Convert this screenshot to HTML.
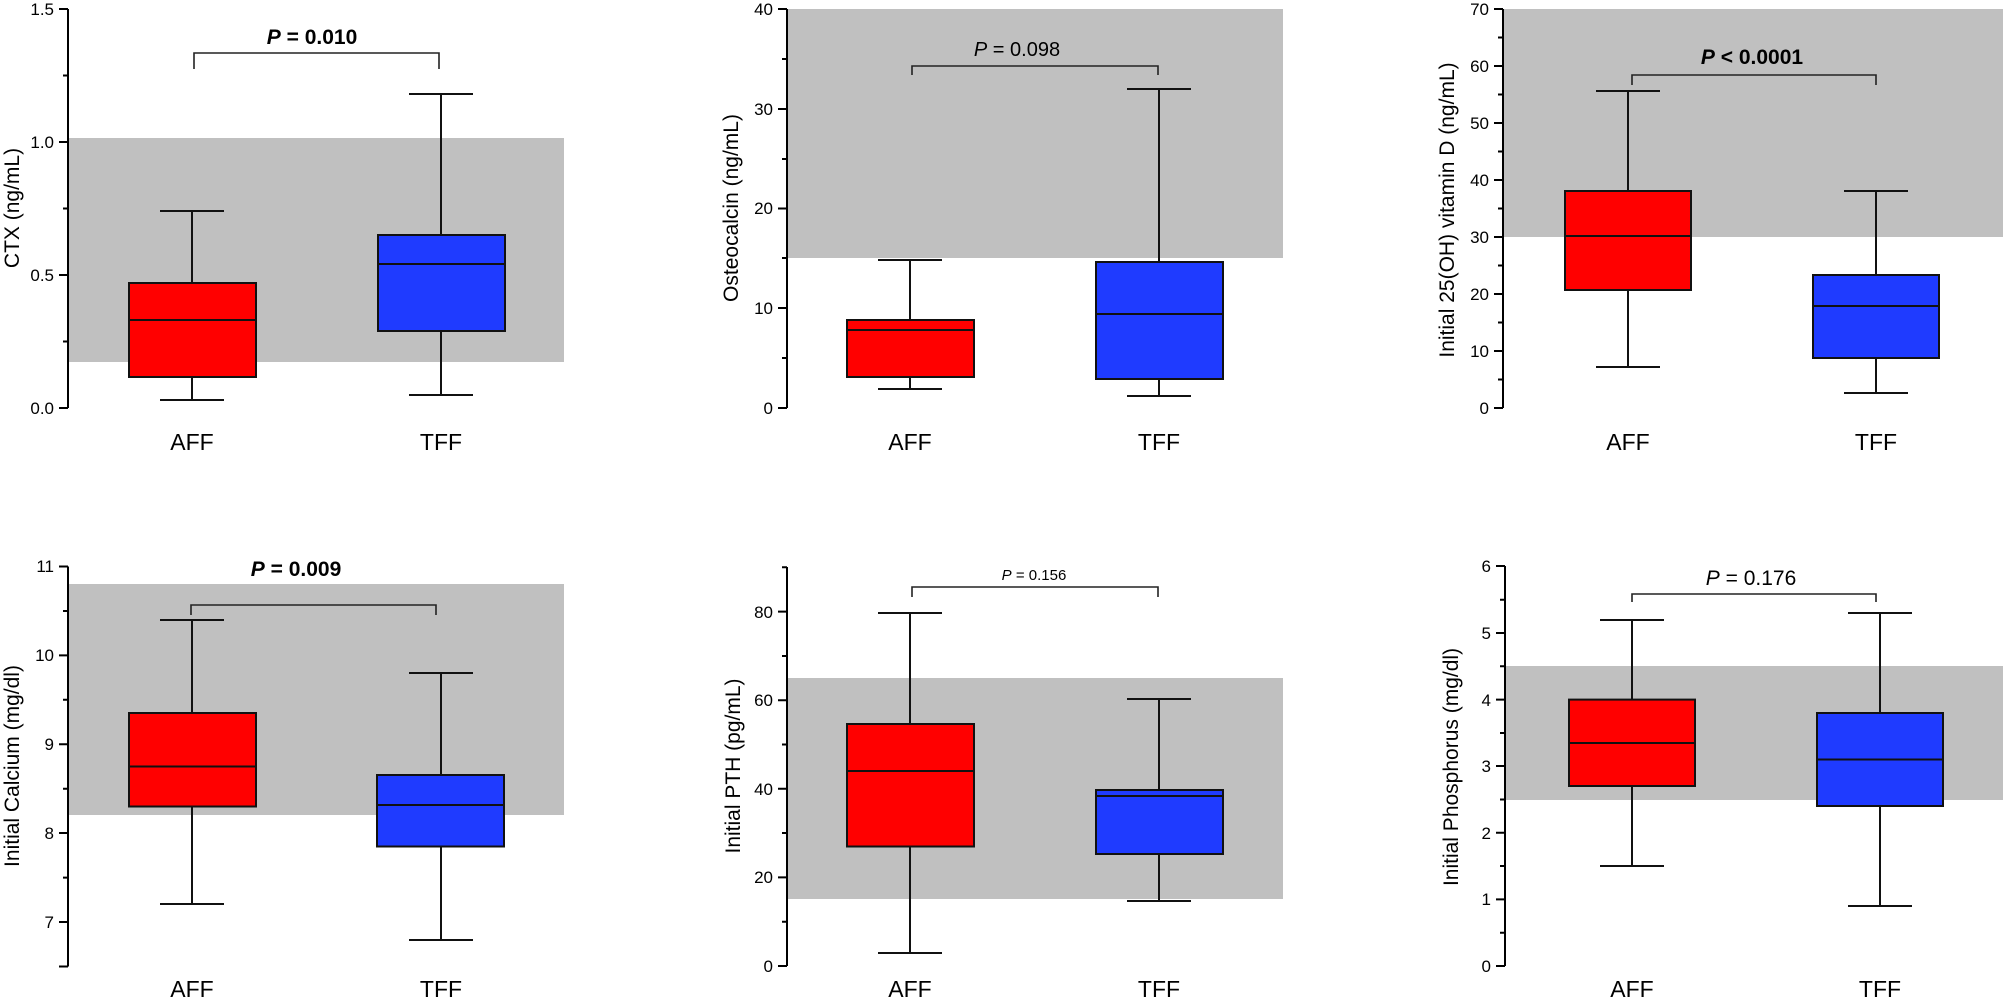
<!DOCTYPE html>
<html><head><meta charset="utf-8"><style>
html,body{margin:0;padding:0;background:#fff}
svg{display:block}
text{font-family:"Liberation Sans",Arial,sans-serif;fill:#000}
.t{font-size:17px;text-anchor:end}
.xl{font-size:23px;text-anchor:middle}
.yl{font-size:21px;text-anchor:middle}
.ax{stroke:#000;stroke-width:2;fill:none}
.w{stroke:#111;stroke-width:2;fill:none}
.br{stroke:#222;stroke-width:1.6;fill:none}
.bx{stroke:#111;stroke-width:2}
</style></head><body>
<svg width="2006" height="998" viewBox="0 0 2006 998" xmlns="http://www.w3.org/2000/svg">
<!-- Gray bands -->
<rect x="68" y="138" width="496" height="224" fill="#c0c0c0"/>
<rect x="787" y="9" width="496" height="249" fill="#c0c0c0"/>
<rect x="1503" y="9" width="500" height="228" fill="#c0c0c0"/>
<rect x="68" y="584" width="496" height="231" fill="#c0c0c0"/>
<rect x="787" y="678" width="496" height="221" fill="#c0c0c0"/>
<rect x="1505" y="666" width="498" height="134" fill="#c0c0c0"/>

<!-- Panel 1 CTX -->
<g>
<path class="ax" d="M68 9V408M59 408H68M59 275H68M59 142H68M59 9H68M63 341.5H68M63 208.5H68M63 75.5H68"/>
<text class="t" x="54" y="414">0.0</text><text class="t" x="54" y="281">0.5</text><text class="t" x="54" y="148">1.0</text><text class="t" x="54" y="15">1.5</text>
<text class="yl" transform="translate(19,208) rotate(-90)">CTX  (ng/mL)</text>
<path class="w" d="M192 400V211M160 400H224M160 211H224"/>
<rect class="bx" x="129" y="283" width="127" height="94" fill="#ff0000"/><path class="w" d="M129 320H256"/>
<path class="w" d="M441 395V94M409 395H473M409 94H473"/>
<rect class="bx" x="378" y="235" width="127" height="96" fill="#1f3bff"/><path class="w" d="M378 264H505"/>
<path class="br" d="M194 69V53H439V69"/>
<text x="312" y="44" style="font-size:21px;font-weight:bold;text-anchor:middle"><tspan font-style="italic">P</tspan> = 0.010</text>
<text class="xl" x="192" y="450">AFF</text><text class="xl" x="441" y="450">TFF</text>
</g>

<!-- Panel 2 Osteocalcin -->
<g>
<path class="ax" d="M787 9V408M778 408H787M778 308H787M778 208.5H787M778 109H787M778 9H787M782 358H787M782 258H787M782 159H787M782 59H787"/>
<text class="t" x="773" y="414">0</text><text class="t" x="773" y="314">10</text><text class="t" x="773" y="214">20</text><text class="t" x="773" y="115">30</text><text class="t" x="773" y="15">40</text>
<text class="yl" transform="translate(738,208) rotate(-90)">Osteocalcin  (ng/mL)</text>
<path class="w" d="M910 389V260M878 389H942M878 260H942"/>
<rect class="bx" x="847" y="320" width="127" height="57" fill="#ff0000"/><path class="w" d="M847 330H974"/>
<path class="w" d="M1159 396V89M1127 396H1191M1127 89H1191"/>
<rect class="bx" x="1096" y="262" width="127" height="117" fill="#1f3bff"/><path class="w" d="M1096 314H1223"/>
<path class="br" d="M912 75V66H1158V75"/>
<text x="1017" y="56" style="font-size:20px;text-anchor:middle"><tspan font-style="italic">P</tspan> = 0.098</text>
<text class="xl" x="910" y="450">AFF</text><text class="xl" x="1159" y="450">TFF</text>
</g>

<!-- Panel 3 Vitamin D -->
<g>
<path class="ax" d="M1503 9V408M1494 408H1503M1494 351H1503M1494 294H1503M1494 237H1503M1494 180H1503M1494 123H1503M1494 66H1503M1494 9H1503M1498 379.5H1503M1498 322.5H1503M1498 265.5H1503M1498 208.5H1503M1498 151.5H1503M1498 94.5H1503M1498 37.5H1503"/>
<text class="t" x="1489" y="414">0</text><text class="t" x="1489" y="357">10</text><text class="t" x="1489" y="300">20</text><text class="t" x="1489" y="243">30</text><text class="t" x="1489" y="186">40</text><text class="t" x="1489" y="129">50</text><text class="t" x="1489" y="72">60</text><text class="t" x="1489" y="15">70</text>
<text class="yl" transform="translate(1454,210) rotate(-90)">Initial 25(OH) vitamin D  (ng/mL)</text>
<path class="w" d="M1628 367V91M1596 367H1660M1596 91H1660"/>
<rect class="bx" x="1565" y="191" width="126" height="99" fill="#ff0000"/><path class="w" d="M1565 236H1691"/>
<path class="w" d="M1876 393V191M1844 393H1908M1844 191H1908"/>
<rect class="bx" x="1813" y="275" width="126" height="83" fill="#1f3bff"/><path class="w" d="M1813 306H1939"/>
<path class="br" d="M1632 85V75H1876V85"/>
<text x="1752" y="64" style="font-size:21px;font-weight:bold;text-anchor:middle"><tspan font-style="italic">P</tspan> &lt; 0.0001</text>
<text class="xl" x="1628" y="450">AFF</text><text class="xl" x="1876" y="450">TFF</text>
</g>

<!-- Panel 4 Calcium -->
<g>
<path class="ax" d="M68 566.5V966.5M59 966.5H68M59 922H68M59 833H68M59 744.2H68M59 655.4H68M59 566.5H68M63 877.6H68M63 788.7H68M63 699.8H68M63 611H68"/>
<text class="t" x="54" y="928">7</text><text class="t" x="54" y="839">8</text><text class="t" x="54" y="750">9</text><text class="t" x="54" y="661">10</text><text class="t" x="54" y="572">11</text>
<text class="yl" transform="translate(19,766) rotate(-90)">Initial Calcium (mg/dl)</text>
<path class="w" d="M192 904V620M160 904H224M160 620H224"/>
<rect class="bx" x="129" y="713" width="127" height="93.5" fill="#ff0000"/><path class="w" d="M129 766.5H256"/>
<path class="w" d="M441 940V673M409 940H473M409 673H473"/>
<rect class="bx" x="377" y="775" width="127" height="71.5" fill="#1f3bff"/><path class="w" d="M377 805H504"/>
<path class="br" d="M191 615V605H436V615"/>
<text x="296" y="576" style="font-size:21px;font-weight:bold;text-anchor:middle"><tspan font-style="italic">P</tspan> = 0.009</text>
<text class="xl" x="192" y="997">AFF</text><text class="xl" x="441" y="997">TFF</text>
</g>

<!-- Panel 5 PTH -->
<g>
<path class="ax" d="M787 567V966M778 966H787M778 877.4H787M778 788.8H787M778 700.2H787M778 611.6H787M782 921.7H787M782 833H787M782 744.5H787M782 656H787M782 567.3H787"/>
<text class="t" x="773" y="972">0</text><text class="t" x="773" y="883">20</text><text class="t" x="773" y="795">40</text><text class="t" x="773" y="706">60</text><text class="t" x="773" y="618">80</text>
<text class="yl" transform="translate(740,766) rotate(-90)">Initial PTH (pg/mL)</text>
<path class="w" d="M910 953V613M878 953H942M878 613H942"/>
<rect class="bx" x="847" y="724" width="127" height="122.5" fill="#ff0000"/><path class="w" d="M847 771H974"/>
<path class="w" d="M1159 901V699M1127 901H1191M1127 699H1191"/>
<rect class="bx" x="1096" y="790" width="127" height="64" fill="#1f3bff"/><path class="w" d="M1096 796H1223"/>
<path class="br" d="M912 597V587H1158V597"/>
<text x="1034" y="580" style="font-size:15px;text-anchor:middle"><tspan font-style="italic">P</tspan> = 0.156</text>
<text class="xl" x="910" y="997">AFF</text><text class="xl" x="1159" y="997">TFF</text>
</g>

<!-- Panel 6 Phosphorus -->
<g>
<path class="ax" d="M1505 566V966M1496 966H1505M1496 899.4H1505M1496 832.8H1505M1496 766H1505M1496 699.6H1505M1496 633H1505M1496 566H1505M1500 932.7H1505M1500 866H1505M1500 799.5H1505M1500 733H1505M1500 666.3H1505M1500 599.7H1505"/>
<text class="t" x="1491" y="972">0</text><text class="t" x="1491" y="905">1</text><text class="t" x="1491" y="839">2</text><text class="t" x="1491" y="772">3</text><text class="t" x="1491" y="706">4</text><text class="t" x="1491" y="639">5</text><text class="t" x="1491" y="572">6</text>
<text class="yl" transform="translate(1458,767) rotate(-90)">Initial Phosphorus (mg/dl)</text>
<path class="w" d="M1632 866V620M1600 866H1664M1600 620H1664"/>
<rect class="bx" x="1569" y="699.6" width="126" height="86.4" fill="#ff0000"/><path class="w" d="M1569 743H1695"/>
<path class="w" d="M1880 906V613M1848 906H1912M1848 613H1912"/>
<rect class="bx" x="1817" y="713" width="126" height="93" fill="#1f3bff"/><path class="w" d="M1817 759.5H1943"/>
<path class="br" d="M1632 602V594H1876V602"/>
<text x="1751" y="585" style="font-size:21px;text-anchor:middle"><tspan font-style="italic">P</tspan> = 0.176</text>
<text class="xl" x="1632" y="997">AFF</text><text class="xl" x="1880" y="997">TFF</text>
</g>
</svg>
</body></html>
